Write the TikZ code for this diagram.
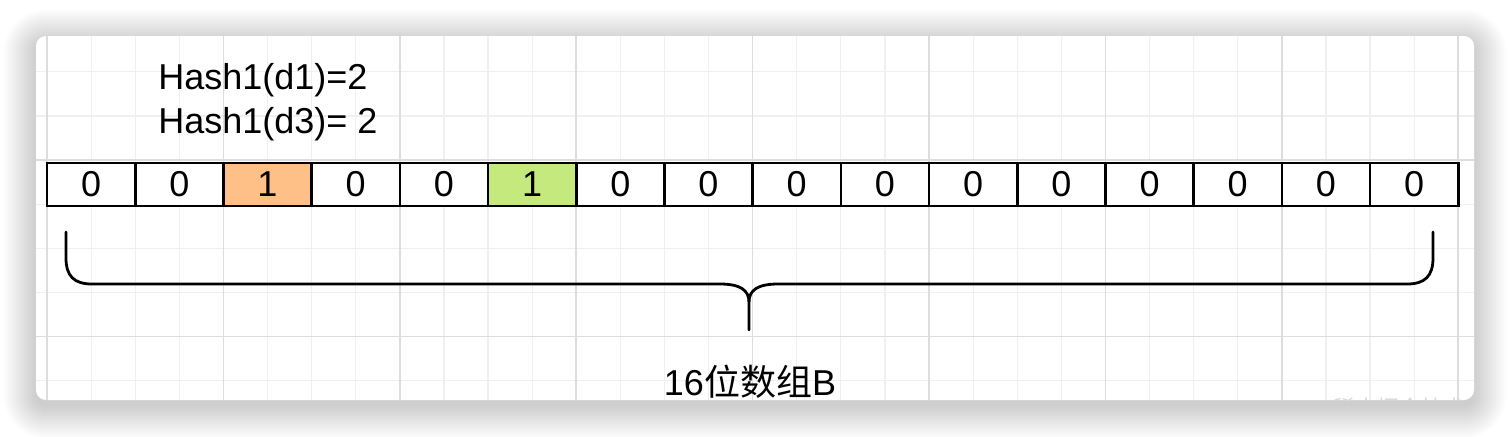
\documentclass[tikz,border=0pt]{standalone}
\usepackage{fontspec}
\setmainfont{Liberation Sans}
\newfontfamily\cjk{Noto Sans CJK SC}
\definecolor{hitorange}{HTML}{FFC088}
\definecolor{hitgreen}{HTML}{C5E97C}
\definecolor{gridminor}{HTML}{F0F0F0}
\definecolor{gridmajor}{HTML}{DDDDDD}
\tikzset{
  cell/.style={draw=black, line width=1.3pt, minimum width=44.1pt, minimum height=21.5pt,
    inner sep=0pt, outer sep=0pt, font=\fontsize{18}{22}\selectfont},
  label text/.style={font=\fontsize{18}{22}\selectfont, inner sep=0pt, anchor=base west},
  brace line/.style={line width=1.4pt, line cap=round}
}

\begin{document}
\begin{tikzpicture}[x=0.5pt, y=-0.5pt]
  \useasboundingbox (0,0) rectangle (1510,436);
  % soft shadow of the card
  \foreach \r in {0,2,...,32}
    \fill[black, opacity=0.012, rounded corners={5pt+0.5pt*\r}]
      ({36-\r},{42-\r}) rectangle ({1474+\r},{406+\r});
  % card
  \fill[white, rounded corners=5pt] (36,36) rectangle (1474,400);
  \begin{scope}
    \clip[rounded corners=5pt] (36,36) rectangle (1474,400);
    % grid
    \foreach \k in {0,...,32}
      \draw[gridminor, line width=0.6pt] ({47+44.1*\k},36) -- ({47+44.1*\k},400);
    \foreach \k in {-2,...,5}
      \draw[gridminor, line width=0.6pt] (36,{160+44.1*\k}) -- (1474,{160+44.1*\k});
    \foreach \k in {0,...,8}
      \draw[gridmajor, line width=0.8pt] ({47+176.4*\k},36) -- ({47+176.4*\k},400);
    \foreach \k in {0,1}
      \draw[gridmajor, line width=0.8pt] (36,{160+176.4*\k}) -- (1474,{160+176.4*\k});
    \node[label text, anchor=base] (title) at (750,395) {16{\cjk 位数组}B};
    \node[label text, text=black!15, font=\cjk\fontsize{11}{13}\selectfont] (mark) at (1312,416) {@稀土掘金技术社区};
  \end{scope}
  \node[label text] (h1) at (158,89) {Hash1(d1)=2};
  \node[label text] (h3) at (158,133) {Hash1(d3)= 2};
  % array cells
  \foreach \v/\c [count=\i from 0] in {0/white,0/white,1/hitorange,0/white,0/white,1/hitgreen,
      0/white,0/white,0/white,0/white,0/white,0/white,0/white,0/white,0/white,0/white}
    \node[cell, fill=\c] (c\i) at ({91.1+88.2*\i},184.5) {\v};
  % brace
  \coordinate (bl) at (66,232);
  \coordinate (br) at (1433,232);
  \coordinate (btip) at (749,330);
  \draw[brace line] (bl) -- (66,258) .. controls (66,276) and (74,284) .. (92,284)
    -- (720,284) .. controls (740,284) and (749,290) .. (749,302) -- (btip);
  \draw[brace line] (br) -- (1433,258) .. controls (1433,276) and (1425,284) .. (1407,284)
    -- (778,284) .. controls (758,284) and (749,290) .. (749,302);
\end{tikzpicture}
\end{document}
